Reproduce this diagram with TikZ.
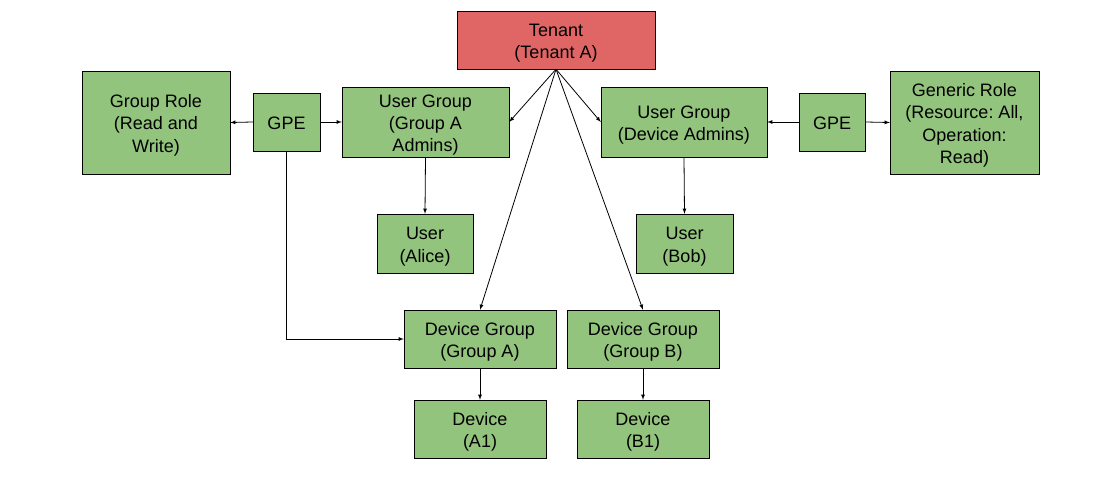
\documentclass[tikz,border=0pt]{standalone}
\usepackage{fontspec}
\setmainfont{Liberation Sans}
\usepackage{array}
\usepackage{tikz}
\usetikzlibrary{positioning}
\usepackage{xcolor}

\definecolor{boxgreen}{HTML}{93C47D}
\definecolor{boxred}{HTML}{E06666}
\setlength{\extrarowheight}{10pt}
\frenchspacing
\newcommand{\boxlines}[1]{\begin{tabular}{@{}c@{}}#1\end{tabular}}

\begin{document}
\begin{tikzpicture} [x=1pt, y=-1pt, >=latex,
		box/.style={draw=black, fill=boxgreen, inner sep=0pt, font=\fontsize{18}{12.3}\selectfont},
		link/.style={black, line width=0.8pt}]
					\useasboundingbox (0, 0) rectangle (1104, 486);

					% top
					\node [box, fill=boxred, minimum width=198, minimum height=58] (tenant) at (556, 40) {\boxlines{Tenant\\(Tenant A)}};

					% left side
					\node [box, minimum width=148, minimum height=103] (groupRole) at (156, 122.5) {\boxlines{Group Role\\(Read and\\Write)}};
					\node [box, minimum width=67, minimum height=58] (gpeLeft) at (286.5, 122) {\boxlines{GPE}};
					\node [box, minimum width=167, minimum height=70] (userGroupA) at (425.5, 122) {\boxlines{User Group\\(Group A\\Admins)}};
					\node [box, minimum width=96, minimum height=59] (alice) at (425, 243.5) {\boxlines{User\\(Alice)}};

					% right side
					\node [box, minimum width=166, minimum height=70] (userGroupDev) at (684, 122) {\boxlines{User Group\\(Device Admins)}};
					\node [box, minimum width=66, minimum height=58] (gpeRight) at (832, 122) {\boxlines{GPE}};
					\node [box, minimum width=149, minimum height=103] (genericRole) at (964.5, 122.5) {\boxlines{Generic Role\\(Resource: All,\\Operation:\\Read)}};
					\node [box, minimum width=97, minimum height=59] (bob) at (684.5, 243.5) {\boxlines{User\\(Bob)}};

					% devices
					\node [box, minimum width=152, minimum height=58] (devGroupA) at (480, 339) {\boxlines{Device Group\\(Group A)}};
					\node [box, minimum width=152, minimum height=58] (devGroupB) at (643, 339) {\boxlines{Device Group\\(Group B)}};
					\node [box, minimum width=132, minimum height=58] (deviceA) at (480, 429) {\boxlines{Device\\(A1)}};
					\node [box, minimum width=132, minimum height=58] (deviceB) at (643, 429) {\boxlines{Device\\(B1)}};

					\draw [link] [->] (tenant.south)--(userGroupA.east);
					\draw [link] [->] (tenant.south)--(userGroupDev.west);
					\draw [link] [->] (tenant.south)--(devGroupA.north);
					\draw [link] [->] (tenant.south)--(devGroupB.north);

					\draw [link] [->] (gpeLeft.west)--(groupRole.east);
					\draw [link] [->] (gpeLeft.east)--(userGroupA.west);
					\draw [link] [->] (gpeLeft.south) |- (devGroupA.west);
					\draw [link] [->] (gpeRight.west)--(userGroupDev.east);
					\draw [link] [->] (gpeRight.east)--(genericRole.west);

					\draw [link] [->] (userGroupA.south)--(alice.north);
					\draw [link] [->] (userGroupDev.south)--(bob.north);
					\draw [link] [->] (devGroupA.south)--(deviceA.north);
					\draw [link] [->] (devGroupB.south)--(deviceB.north);
				\end{tikzpicture}
\end{document}
